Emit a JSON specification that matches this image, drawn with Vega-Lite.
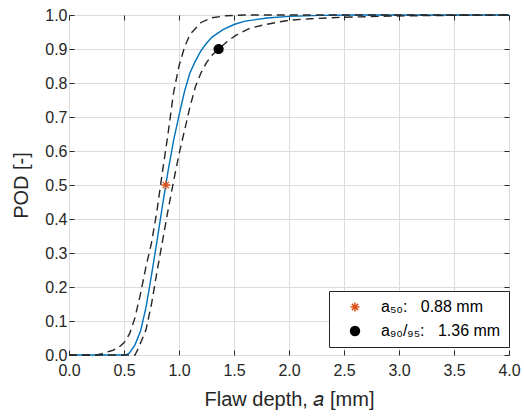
{
  "$schema": "https://vega.github.io/schema/vega-lite/v6.json",
  "width": 440,
  "height": 340,
  "autosize": {"type": "none"},
  "padding": {"left": 69, "top": 15, "right": 15, "bottom": 62},
  "background": "white",
  "config": {
    "view": {"stroke": "#262626", "strokeWidth": 1},
    "font": "Liberation Sans",
    "axis": {
      "labelFont": "Liberation Sans",
      "labelFontSize": 16,
      "labelColor": "#262626",
      "titleFont": "Liberation Sans",
      "titleFontSize": 20,
      "titleFontWeight": "normal",
      "titleColor": "#262626",
      "domain": false,
      "tickColor": "#262626",
      "tickSize": -5,
      "gridColor": "#dcdcdc",
      "gridWidth": 1,
      "labelFlush": false,
      "labelOverlap": false
    }
  },
  "resolve": {"axis": {"x": "independent", "y": "independent"}, "scale": {"x": "shared", "y": "shared"}},
  "datasets": {
    "curves": [
      {"a": 0, "pod": 0, "series": "POD"},
      {"a": 0.5, "pod": 0, "series": "POD"},
      {"a": 0.525, "pod": 0.001, "series": "POD"},
      {"a": 0.55, "pod": 0.006, "series": "POD"},
      {"a": 0.6, "pod": 0.03, "series": "POD"},
      {"a": 0.65, "pod": 0.07, "series": "POD"},
      {"a": 0.7, "pod": 0.14, "series": "POD"},
      {"a": 0.75, "pod": 0.235, "series": "POD"},
      {"a": 0.8, "pod": 0.335, "series": "POD"},
      {"a": 0.85, "pod": 0.44, "series": "POD"},
      {"a": 0.9, "pod": 0.54, "series": "POD"},
      {"a": 0.95, "pod": 0.63, "series": "POD"},
      {"a": 1.0, "pod": 0.705, "series": "POD"},
      {"a": 1.05, "pod": 0.775, "series": "POD"},
      {"a": 1.1, "pod": 0.83, "series": "POD"},
      {"a": 1.15, "pod": 0.865, "series": "POD"},
      {"a": 1.2, "pod": 0.895, "series": "POD"},
      {"a": 1.25, "pod": 0.917, "series": "POD"},
      {"a": 1.3, "pod": 0.935, "series": "POD"},
      {"a": 1.4, "pod": 0.957, "series": "POD"},
      {"a": 1.5, "pod": 0.972, "series": "POD"},
      {"a": 1.6, "pod": 0.982, "series": "POD"},
      {"a": 1.8, "pod": 0.991, "series": "POD"},
      {"a": 2.0, "pod": 0.996, "series": "POD"},
      {"a": 2.3, "pod": 0.999, "series": "POD"},
      {"a": 2.6, "pod": 1.0, "series": "POD"},
      {"a": 4.0, "pod": 1.0, "series": "POD"},
      {"a": 0, "pod": 0, "series": "upper"},
      {"a": 0.25, "pod": 0, "series": "upper"},
      {"a": 0.3, "pod": 0.004, "series": "upper"},
      {"a": 0.4, "pod": 0.014, "series": "upper"},
      {"a": 0.45, "pod": 0.022, "series": "upper"},
      {"a": 0.5, "pod": 0.036, "series": "upper"},
      {"a": 0.55, "pod": 0.062, "series": "upper"},
      {"a": 0.6, "pod": 0.11, "series": "upper"},
      {"a": 0.65, "pod": 0.18, "series": "upper"},
      {"a": 0.7, "pod": 0.26, "series": "upper"},
      {"a": 0.75, "pod": 0.33, "series": "upper"},
      {"a": 0.8, "pod": 0.425, "series": "upper"},
      {"a": 0.85, "pod": 0.54, "series": "upper"},
      {"a": 0.9, "pod": 0.65, "series": "upper"},
      {"a": 0.95, "pod": 0.77, "series": "upper"},
      {"a": 1.0, "pod": 0.85, "series": "upper"},
      {"a": 1.05, "pod": 0.905, "series": "upper"},
      {"a": 1.1, "pod": 0.943, "series": "upper"},
      {"a": 1.2, "pod": 0.978, "series": "upper"},
      {"a": 1.3, "pod": 0.992, "series": "upper"},
      {"a": 1.43, "pod": 0.998, "series": "upper"},
      {"a": 1.6, "pod": 1.0, "series": "upper"},
      {"a": 4.0, "pod": 1.0, "series": "upper"},
      {"a": 0, "pod": 0, "series": "lower"},
      {"a": 0.6, "pod": 0, "series": "lower"},
      {"a": 0.63, "pod": 0.02, "series": "lower"},
      {"a": 0.65, "pod": 0.035, "series": "lower"},
      {"a": 0.7, "pod": 0.074, "series": "lower"},
      {"a": 0.75, "pod": 0.15, "series": "lower"},
      {"a": 0.8, "pod": 0.245, "series": "lower"},
      {"a": 0.85, "pod": 0.335, "series": "lower"},
      {"a": 0.9, "pod": 0.425, "series": "lower"},
      {"a": 0.95, "pod": 0.51, "series": "lower"},
      {"a": 1.0, "pod": 0.59, "series": "lower"},
      {"a": 1.05, "pod": 0.66, "series": "lower"},
      {"a": 1.1, "pod": 0.73, "series": "lower"},
      {"a": 1.15, "pod": 0.79, "series": "lower"},
      {"a": 1.2, "pod": 0.83, "series": "lower"},
      {"a": 1.25, "pod": 0.86, "series": "lower"},
      {"a": 1.3, "pod": 0.882, "series": "lower"},
      {"a": 1.36, "pod": 0.9, "series": "lower"},
      {"a": 1.45, "pod": 0.925, "series": "lower"},
      {"a": 1.52, "pod": 0.941, "series": "lower"},
      {"a": 1.645, "pod": 0.961, "series": "lower"},
      {"a": 1.77, "pod": 0.971, "series": "lower"},
      {"a": 1.92, "pod": 0.98, "series": "lower"},
      {"a": 2.01, "pod": 0.985, "series": "lower"},
      {"a": 2.2, "pod": 0.989, "series": "lower"},
      {"a": 2.46, "pod": 0.993, "series": "lower"},
      {"a": 2.92, "pod": 0.997, "series": "lower"},
      {"a": 3.5, "pod": 0.999, "series": "lower"},
      {"a": 4.0, "pod": 1.0, "series": "lower"}
    ],
    "markers": [
      {"a": 0.88, "pod": 0.5, "label": "a₅₀:\u00a0\u00a0\u00a00.88 mm"},
      {"a": 1.36, "pod": 0.9, "label": "a₉₀/₉₅:\u00a0\u00a0\u00a01.36 mm"}
    ]
  },
  "layer": [
    {
      "data": {"name": "curves"},
      "transform": [{"filter": "datum.series === 'POD'"}],
      "mark": {"type": "line", "color": "#0072BD", "strokeWidth": 1.4},
      "encoding": {
        "x": {
          "field": "a", "type": "quantitative",
          "scale": {"domain": [0, 4], "nice": false},
          "axis": {"orient": "bottom", "values": [0, 0.5, 1, 1.5, 2, 2.5, 3, 3.5, 4], "format": ".1f", "title": "Flaw depth, 𝑎 [mm]", "labelPadding": 12, "titlePadding": 11, "grid": true}
        },
        "y": {
          "field": "pod", "type": "quantitative",
          "scale": {"domain": [0, 1], "nice": false},
          "axis": {"orient": "left", "values": [0, 0.1, 0.2, 0.3, 0.4, 0.5, 0.6, 0.7, 0.8, 0.9, 1.0], "format": ".1f", "title": "POD [-]", "labelPadding": 7, "titlePadding": 13, "grid": true}
        }
      }
    },
    {
      "data": {"name": "curves"},
      "transform": [{"filter": "datum.series !== 'POD'"}],
      "mark": {"type": "line", "color": "#262626", "strokeWidth": 1.4, "strokeDash": [8, 5]},
      "encoding": {
        "x": {"field": "a", "type": "quantitative", "axis": null},
        "y": {"field": "pod", "type": "quantitative", "axis": null},
        "detail": {"field": "series"}
      }
    },
    {
      "data": {"name": "markers"},
      "mark": {"type": "point", "size": 80, "strokeWidth": 1.3, "opacity": 1},
      "encoding": {
        "x": {"field": "a", "type": "quantitative", "axis": null},
        "y": {"field": "pod", "type": "quantitative", "axis": null},
        "shape": {
          "field": "label", "type": "nominal",
          "scale": {"domain": ["a₅₀:\u00a0\u00a0\u00a00.88 mm", "a₉₀/₉₅:\u00a0\u00a0\u00a01.36 mm"], "range": ["M-1,0L1,0M0,-1L0,1M-0.7,-0.7L0.7,0.7M-0.7,0.7L0.7,-0.7", "circle"]},
          "legend": {
            "title": null, "orient": "none", "legendX": 260, "legendY": 276,
            "strokeColor": "#262626", "fillColor": "white", "padding": 8,
            "labelFont": "Liberation Sans", "labelFontSize": 16, "labelColor": "#000000",
            "symbolSize": 80, "symbolOffset": 10, "labelOffset": 18, "rowPadding": 8
          }
        },
        "fill": {
          "field": "label", "type": "nominal",
          "scale": {"domain": ["a₅₀:\u00a0\u00a0\u00a00.88 mm", "a₉₀/₉₅:\u00a0\u00a0\u00a01.36 mm"], "range": ["#D95319", "#000000"]},
          "legend": {
            "title": null, "orient": "none", "legendX": 260, "legendY": 276,
            "strokeColor": "#262626", "fillColor": "white", "padding": 8,
            "labelFont": "Liberation Sans", "labelFontSize": 16, "labelColor": "#000000",
            "symbolSize": 80, "symbolOffset": 10, "labelOffset": 18, "rowPadding": 8
          }
        },
        "stroke": {
          "field": "label", "type": "nominal",
          "scale": {"domain": ["a₅₀:\u00a0\u00a0\u00a00.88 mm", "a₉₀/₉₅:\u00a0\u00a0\u00a01.36 mm"], "range": ["#D95319", "#000000"]},
          "legend": {
            "title": null, "orient": "none", "legendX": 260, "legendY": 276,
            "strokeColor": "#262626", "fillColor": "white", "padding": 8,
            "labelFont": "Liberation Sans", "labelFontSize": 16, "labelColor": "#000000",
            "symbolSize": 80, "symbolOffset": 10, "labelOffset": 18, "rowPadding": 8
          }
        }
      }
    },
    {
      "data": {"name": "markers"},
      "mark": {"type": "point", "opacity": 0},
      "encoding": {
        "x": {"field": "a", "type": "quantitative", "axis": {"orient": "top", "values": [0, 0.5, 1, 1.5, 2, 2.5, 3, 3.5, 4], "labels": false, "title": null, "grid": false}},
        "y": {"field": "pod", "type": "quantitative", "axis": {"orient": "right", "values": [0, 0.1, 0.2, 0.3, 0.4, 0.5, 0.6, 0.7, 0.8, 0.9, 1.0], "labels": false, "title": null, "grid": false}}
      }
    }
  ]
}
